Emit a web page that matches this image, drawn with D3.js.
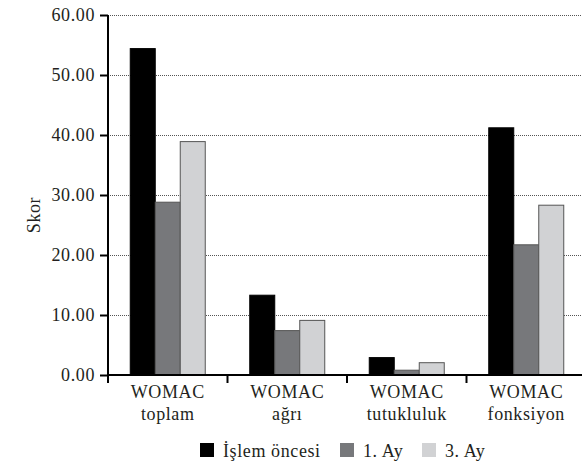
<!DOCTYPE html>
<html>
<head>
<meta charset="UTF-8">
<script src="https://cdn.jsdelivr.net/npm/d3@7"></script>
<style>
html, body { margin: 0; padding: 0; background: #fff; }
svg { font-family: 'Liberation Serif', 'DejaVu Serif', serif; display: block; }
svg text { letter-spacing: 0.6px; }
</style>
</head>
<body>
<script>
// categories (two-line labels) and series
var categories = [["WOMAC", "toplam"], ["WOMAC", "ağrı"], ["WOMAC", "tutukluluk"], ["WOMAC", "fonksiyon"]];
var seriesNames = ["İşlem öncesi", "1. Ay", "3. Ay"];
var seriesColors = ["#000000", "#77787b", "#d1d2d4"];
var islemOncesi = [54.4, 13.3, 2.9, 41.2];
var ay1 = [28.8, 7.4, 0.8, 21.7];
var ay3 = [38.9, 9.1, 2.05, 28.3];
var yTicks = [0, 10, 20, 30, 40, 50, 60];

var values = [islemOncesi, ay1, ay3];
var W = 582, H = 461;
var plotL = 108, plotR = 586, plotT = 15, plotB = 375;
var fs = 18;

var svg = d3.select("body").append("svg")
    .attr("width", W)
    .attr("height", H);

var x0 = d3.scaleBand()
    .domain(d3.range(categories.length))
    .range([plotL, plotR])
    .padding(0);

var x1 = d3.scaleBand()
    .domain(d3.range(seriesNames.length))
    .range([0, x0.bandwidth()])
    .paddingInner(0)
    .paddingOuter(0.89);

var y = d3.scaleLinear()
    .domain([0, 60])
    .range([plotB, plotT]);

// dotted grid
svg.append("g")
    .selectAll("line")
    .data(yTicks.filter(function(d) { return d > 0; }))
    .join("line")
    .attr("x1", plotL)
    .attr("x2", W)
    .attr("y1", function(d) { return y(d) + 0.5; })
    .attr("y2", function(d) { return y(d) + 0.5; })
    .attr("stroke", "#555")
    .attr("stroke-width", 1)
    .attr("stroke-dasharray", "1,1");

// bars
svg.append("g")
    .selectAll("g")
    .data(values)
    .join("g")
    .attr("fill", function(d, i) { return seriesColors[i]; })
    .attr("stroke", function(d, i) { return i === 0 ? "#000" : "#555"; })
    .each(function(series, s) {
        d3.select(this).selectAll("rect")
            .data(series)
            .join("rect")
            .attr("x", function(d, c) { return x0(c) + x1(s); })
            .attr("width", x1.bandwidth())
            .attr("y", function(d) { return y(d); })
            .attr("height", function(d) { return y(0) - y(d); })
            .attr("stroke-width", 1);
    });

// y axis
var yAxis = svg.append("g")
    .attr("transform", "translate(" + plotL + ",0)")
    .call(d3.axisLeft(y).tickValues(yTicks).tickFormat(d3.format(".2f")).tickSize(8).tickPadding(5));
yAxis.select(".domain").attr("stroke", "#000").attr("stroke-width", 2).attr("d", "M0," + plotT + "V" + (plotB + 6));
yAxis.selectAll(".tick line").attr("stroke", "#000").attr("stroke-width", 2);
yAxis.selectAll("text").attr("font-size", fs).attr("fill", "#231f20").attr("font-family", "'Liberation Serif', serif");

// x axis
var xAxis = svg.append("g")
    .attr("transform", "translate(0," + plotB + ")");
xAxis.append("line")
    .attr("x1", plotL).attr("x2", W)
    .attr("stroke", "#000").attr("stroke-width", 2);
xAxis.selectAll("line.tk")
    .data(d3.range(categories.length))
    .join("line")
    .attr("class", "tk")
    .attr("x1", function(d) { return x0(d); })
    .attr("x2", function(d) { return x0(d); })
    .attr("y1", 0).attr("y2", 8)
    .attr("stroke", "#000").attr("stroke-width", 2);

var lbl = xAxis.selectAll("text")
    .data(categories)
    .join("text")
    .attr("text-anchor", "middle")
    .attr("font-size", fs)
    .attr("fill", "#231f20");
lbl.selectAll("tspan")
    .data(function(d, i) { return d.map(function(t) { return { t: t, i: i }; }); })
    .join("tspan")
    .attr("x", function(d) { return x0(d.i) + x0.bandwidth() / 2; })
    .attr("y", function(d, j) { return 23 + j * 22; })
    .text(function(d) { return d.t; });

// y label
svg.append("text")
    .attr("transform", "translate(40,215) rotate(-90)")
    .attr("text-anchor", "middle")
    .attr("font-size", fs)
    .attr("fill", "#231f20")
    .text("Skor");

// legend
var legendX = [200, 340, 422];
var legend = svg.append("g")
    .selectAll("g")
    .data(seriesNames)
    .join("g")
    .attr("transform", function(d, i) { return "translate(" + legendX[i] + ",443)"; });
legend.append("rect")
    .attr("width", 14).attr("height", 14)
    .attr("fill", function(d, i) { return seriesColors[i]; });
legend.append("text")
    .attr("x", 23).attr("y", 14)
    .attr("font-size", fs)
    .attr("fill", "#231f20")
    .text(function(d) { return d; });
</script>
</body>
</html>
